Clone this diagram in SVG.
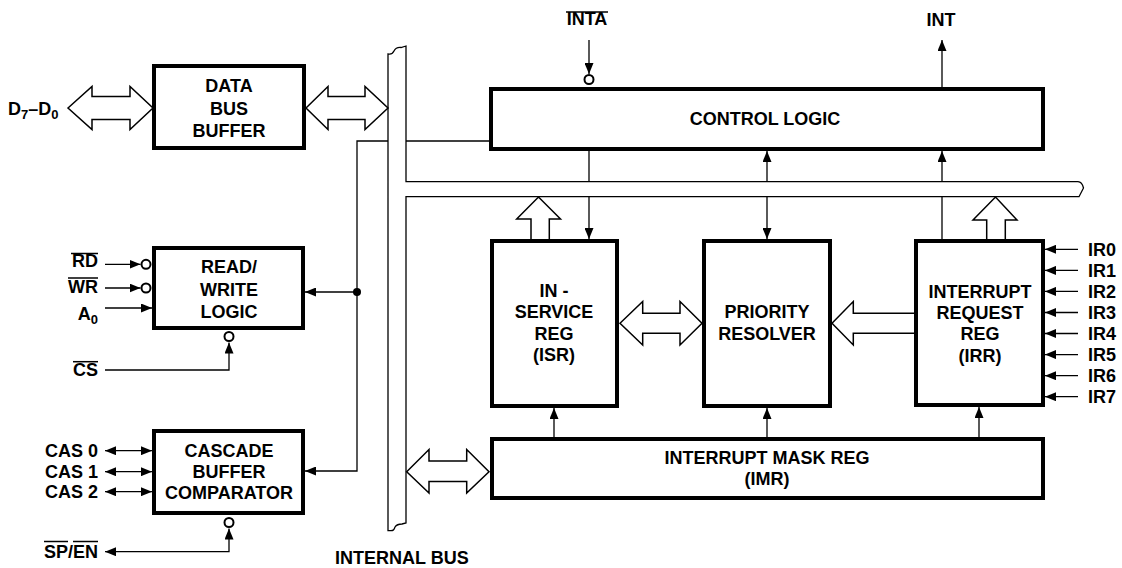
<svg xmlns="http://www.w3.org/2000/svg" width="1122" height="568" viewBox="0 0 1122 568">
<style>
.box{fill:#fff;stroke:#000;stroke-width:4}
.t{font-family:"Liberation Sans",Arial,Helvetica,sans-serif;font-weight:bold;font-size:18px;fill:#000;text-anchor:middle}
.l{text-anchor:start}
.e{text-anchor:end}
.ln{fill:none;stroke:#000;stroke-width:1.3}
.bar{fill:none;stroke:#000;stroke-width:1.5}
.hol{fill:#fff;stroke:#000;stroke-width:1.5;stroke-linejoin:miter}
.bub{fill:#fff;stroke:#000;stroke-width:2}
.arr{marker-end:url(#ah)}
.arr2{marker-start:url(#ah);marker-end:url(#ah)}
</style>
<defs>
<marker id="ah" markerUnits="userSpaceOnUse" markerWidth="11" markerHeight="9" refX="11" refY="4.5" orient="auto-start-reverse">
<path d="M0,0 L11,4.5 L0,9 z" fill="#000"/>
</marker>
</defs>
<rect width="1122" height="568" fill="#fff"/>

<g id="internal-bus">
<path class="ln" d="M388,530.7 L388,54 Q392,55 394,51 Q396,47 401,47.5 L406,46 L406,181.7 L1078,181.7 Q1082,182 1083.5,188 L1079,196.7 L406,196.7 L406,523 L402,524 Q397,524 395,527 Q394,530.7 391,530.7 Z" fill="#fff"/>
<text class="t l" x="335" y="564">INTERNAL BUS</text>
</g>

<g id="connectors">
<polygon class="hol" points="68,108 92,86.5 92,96.5 130,96.5 130,86.5 153,108 130,129.5 130,119.5 92,119.5 92,129.5"/>
<polygon class="hol" points="306,108 328,86.5 328,96.5 365,96.5 365,86.5 388,108 365,129.5 365,119.5 328,119.5 328,129.5"/>
<path class="ln arr" d="M388,141 L357,141 L357,471 L305,471"/>
<path class="ln" d="M406,141 L489,141"/>
<path class="ln arr" d="M357,292 L305,292"/>
<circle cx="357" cy="292" r="4" fill="#000"/>
<path class="ln arr" d="M105,264.3 L140.5,264.3"/>
<circle class="bub" cx="146" cy="264.3" r="4.5"/>
<path class="ln arr" d="M105,288 L140.5,288"/>
<circle class="bub" cx="146" cy="288" r="4.5"/>
<path class="ln arr" d="M105,308 L152,308"/>
<path class="ln arr" d="M105,370 L229,370 L229,342.5"/>
<circle class="bub" cx="229" cy="336.5" r="4.5"/>
<path class="ln arr2" d="M105,450.7 L152,450.7"/>
<path class="ln arr2" d="M105,471.7 L152,471.7"/>
<path class="ln arr2" d="M105,491.7 L152,491.7"/>
<path class="ln arr2" d="M229,528.5 L229,551.7 L105,551.7"/>
<circle class="bub" cx="229" cy="522.5" r="4.5"/>
<path class="ln arr" d="M589,40 L589,74"/>
<circle class="bub" cx="589" cy="79.5" r="4.5"/>
<path class="ln arr" d="M942,87 L942,40"/>
<path class="ln" d="M589,151 L589,181.7"/>
<path class="ln arr" d="M589,196.7 L589,239"/>
<path class="ln arr" d="M767,181.7 L767,151"/>
<path class="ln arr" d="M767,196.7 L767,239"/>
<path class="ln arr" d="M942,181.7 L942,151"/>
<path class="ln" d="M942,196.7 L942,239"/>
<polyline class="hol" points="531,239 531,219 516.7,219 538.5,197 560.5,219 549.3,219 549.3,239"/>
<polyline class="hol" points="986.7,239 986.7,220 973,220 995.5,197 1017,220 1005.3,220 1005.3,239"/>
<polygon class="hol" points="620,323.3 642.7,301.5 642.7,313.3 680,313.3 680,301.5 702,323.3 680,345 680,333.3 642.7,333.3 642.7,345"/>
<polyline class="hol" points="914,313.3 853.3,313.3 853.3,301.5 832,323.3 853.3,345 853.3,333.3 914,333.3"/>
<polygon class="hol" points="406.7,471.7 429,449.5 429,461 466.7,461 466.7,449.5 489,471.7 466.7,493 466.7,481.5 429,481.5 429,493"/>
<path class="ln arr" d="M554,437 L554,408"/>
<path class="ln arr" d="M767,437 L767,408"/>
<path class="ln arr" d="M979,437 L979,407"/>
<path class="ln arr" d="M1078,249.3 L1045,249.3"/>
<path class="ln arr" d="M1078,270.4 L1045,270.4"/>
<path class="ln arr" d="M1078,291.4 L1045,291.4"/>
<path class="ln arr" d="M1078,312.5 L1045,312.5"/>
<path class="ln arr" d="M1078,333.5 L1045,333.5"/>
<path class="ln arr" d="M1078,354.6 L1045,354.6"/>
<path class="ln arr" d="M1078,375.7 L1045,375.7"/>
<path class="ln arr" d="M1078,396.7 L1045,396.7"/>
</g>

<g id="labels">
<text class="t l" x="8" y="115">D<tspan font-size="13" dy="4">7</tspan><tspan dy="-4">–</tspan>D<tspan font-size="13" dy="4">0</tspan></text>
<text class="t e" x="98" y="267">RD</text>
<line class="bar" x1="71" y1="253.5" x2="98" y2="253.5"/>
<text class="t e" x="98" y="293">WR</text>
<line class="bar" x1="68" y1="278" x2="98" y2="278"/>
<text class="t e" x="98" y="320">A<tspan font-size="13" dy="4">0</tspan></text>
<text class="t e" x="98" y="376">CS</text>
<line class="bar" x1="73" y1="361.7" x2="98" y2="361.7"/>
<text class="t e" x="98" y="456.7">CAS 0</text>
<text class="t e" x="98" y="477.7">CAS 1</text>
<text class="t e" x="98" y="498.3">CAS 2</text>
<text class="t e" x="98" y="558.3">SP/EN</text>
<line class="bar" x1="44" y1="541.5" x2="68" y2="541.5"/>
<line class="bar" x1="73" y1="541.5" x2="98" y2="541.5"/>
<text class="t" x="587" y="25">INTA</text>
<line class="bar" x1="566" y1="12" x2="608" y2="12"/>
<text class="t" x="941" y="26">INT</text>
<text class="t l" x="1088" y="255.7">IR0</text>
<text class="t l" x="1088" y="276.8">IR1</text>
<text class="t l" x="1088" y="297.8">IR2</text>
<text class="t l" x="1088" y="318.9">IR3</text>
<text class="t l" x="1088" y="339.9">IR4</text>
<text class="t l" x="1088" y="361">IR5</text>
<text class="t l" x="1088" y="382.1">IR6</text>
<text class="t l" x="1088" y="403.1">IR7</text>
</g>

<g id="data-bus-buffer">
<rect class="box" x="154" y="66" width="150" height="82"/>
<text class="t" x="229" y="92">DATA</text>
<text class="t" x="229" y="114.5">BUS</text>
<text class="t" x="229" y="137">BUFFER</text>
</g>

<g id="read-write-logic">
<rect class="box" x="154" y="248" width="149" height="80"/>
<text class="t" x="229" y="273">READ/</text>
<text class="t" x="229" y="295.5">WRITE</text>
<text class="t" x="229" y="317.5">LOGIC</text>
</g>

<g id="cascade-buffer-comparator">
<rect class="box" x="154" y="431" width="149" height="82"/>
<text class="t" x="229" y="456.5">CASCADE</text>
<text class="t" x="229" y="477.5">BUFFER</text>
<text class="t" x="229" y="498.5">COMPARATOR</text>
</g>

<g id="control-logic">
<rect class="box" x="491" y="89" width="552" height="60"/>
<text class="t" x="765" y="125">CONTROL LOGIC</text>
</g>

<g id="in-service-reg">
<rect class="box" x="492" y="241" width="125" height="165"/>
<text class="t" x="554" y="296.5">IN -</text>
<text class="t" x="554" y="318">SERVICE</text>
<text class="t" x="554" y="340">REG</text>
<text class="t" x="554" y="361">(ISR)</text>
</g>

<g id="priority-resolver">
<rect class="box" x="704" y="241" width="126" height="165"/>
<text class="t" x="767" y="317.5">PRIORITY</text>
<text class="t" x="767" y="340">RESOLVER</text>
</g>

<g id="interrupt-request-reg">
<rect class="box" x="916" y="241" width="127" height="164"/>
<text class="t" x="980" y="298">INTERRUPT</text>
<text class="t" x="980" y="318.5">REQUEST</text>
<text class="t" x="980" y="340">REG</text>
<text class="t" x="980" y="362">(IRR)</text>
</g>

<g id="interrupt-mask-reg">
<rect class="box" x="492" y="439" width="551" height="59"/>
<text class="t" x="767" y="464">INTERRUPT MASK REG</text>
<text class="t" x="767" y="485">(IMR)</text>
</g>
</svg>
